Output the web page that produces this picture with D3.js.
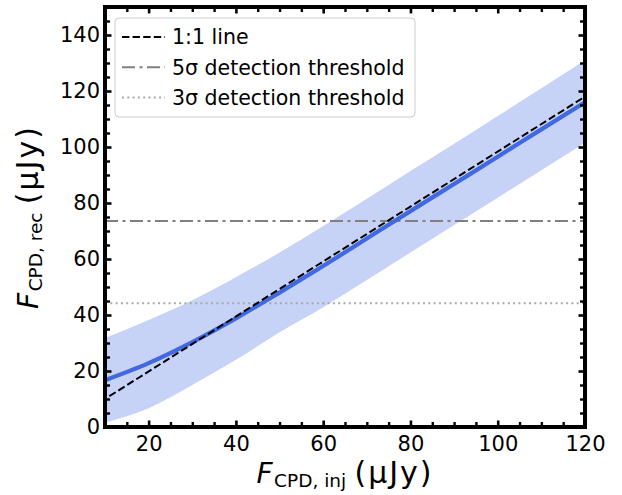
<!DOCTYPE html>
<html>
  <head>
    <meta charset="UTF-8" />
    <title>CPD flux recovery</title>
    <style>
      body { margin: 0; background: #fff; }
      svg { font-family: 'DejaVu Sans', sans-serif; }
      .tick line { stroke: #000; }
    </style>
  </head>
  <body>
    <svg width="622" height="495"></svg>
    <script src="https://cdnjs.cloudflare.com/ajax/libs/d3/7.8.5/d3.min.js"></script>
    <script>
      // injected flux (uJy) and recovered flux with its spread
      const injected = [10, 20, 30, 40, 50, 60, 70, 80, 90, 100, 110, 120];
      const recovered = [16.7, 22.8, 30.3, 38.8, 48.0, 57.5, 67.3, 77.1, 86.8, 96.5, 106.3, 116.0];
      const bandHigh = [31.8, 38.2, 45.3, 53.5, 62.3, 71.8, 81.5, 91.4, 101.2, 111.1, 121.0, 131.0];
      const bandLow = [1.6, 6.7, 15.0, 24.0, 33.8, 42.8, 52.5, 62.3, 72.1, 81.9, 91.7, 101.5];

      const oneToOneX = [11, 120];
      const oneToOneY = [11, 118];

      const threshold5 = 73.6;
      const threshold3 = 44.2;

      const legendLabels = ['1:1 line', '5σ detection threshold', '3σ detection threshold'];

      const xTicks = [20, 40, 60, 80, 100, 120];
      const yTicks = [0, 20, 40, 60, 80, 100, 120, 140];

      const svg = d3.select('svg');

      const plotLeft = 105;
      const plotRight = 585;
      const plotTop = 7;
      const plotBottom = 427;

      const xScale = d3.scaleLinear().domain([10, 120]).range([plotLeft, plotRight]);
      const yScale = d3.scaleLinear().domain([0, 150]).range([plotBottom, plotTop]);

      const xMinor = d3.range(10, 121, 5).filter((v) => !xTicks.includes(v));
      const yMinor = d3.range(0, 151, 5).filter((v) => !yTicks.includes(v));

      const rows = injected.map((x, i) => ({
        x,
        y: recovered[i],
        lo: bandLow[i],
        hi: bandHigh[i],
      }));

      // shaded spread
      svg
        .append('path')
        .datum(rows)
        .attr('fill', 'royalblue')
        .attr('fill-opacity', 0.3)
        .attr(
          'd',
          d3
            .area()
            .curve(d3.curveMonotoneX)
            .x((d) => xScale(d.x))
            .y0((d) => yScale(d.lo))
            .y1((d) => yScale(d.hi))
        );

      // thresholds
      svg
        .append('line')
        .attr('x1', xScale(10))
        .attr('x2', xScale(120))
        .attr('y1', yScale(threshold5))
        .attr('y2', yScale(threshold5))
        .attr('stroke', '#808080')
        .attr('stroke-width', 2)
        .attr('stroke-dasharray', '13,4.5,3,4.5');

      svg
        .append('line')
        .attr('x1', xScale(10))
        .attr('x2', xScale(120))
        .attr('y1', yScale(threshold3))
        .attr('y2', yScale(threshold3))
        .attr('stroke', '#a9a9a9')
        .attr('stroke-width', 2)
        .attr('stroke-dasharray', '2,3.3');

      // recovered flux
      svg
        .append('path')
        .datum(rows)
        .attr('fill', 'none')
        .attr('stroke', 'royalblue')
        .attr('stroke-width', 4.2)
        .attr(
          'd',
          d3
            .line()
            .curve(d3.curveMonotoneX)
            .x((d) => xScale(d.x))
            .y((d) => yScale(d.y))
        );

      // 1:1 line
      svg
        .append('path')
        .datum(oneToOneX.map((x, i) => [x, oneToOneY[i]]))
        .attr('fill', 'none')
        .attr('stroke', '#000')
        .attr('stroke-width', 2)
        .attr('stroke-dasharray', '7.4,3.2')
        .attr(
          'd',
          d3
            .line()
            .x((d) => xScale(d[0]))
            .y((d) => yScale(d[1]))
        );

      // axes with inward ticks on all four sides
      const styleAxis = (g, width) => {
        g.select('.domain').remove();
        g.selectAll('.tick line').attr('stroke-width', width);
        g.selectAll('.tick text')
          .attr('fill', '#000')
          .attr('font-size', 21)
          .attr('font-family', "'DejaVu Sans', sans-serif");
      };

      svg
        .append('g')
        .attr('transform', `translate(0,${plotBottom})`)
        .call(d3.axisBottom(xScale).tickValues(xTicks).tickSize(-6.5).tickPadding(9))
        .call(styleAxis, 2.6);
      svg
        .append('g')
        .attr('transform', `translate(0,${plotBottom})`)
        .call(d3.axisBottom(xScale).tickValues(xMinor).tickSize(-5).tickFormat(''))
        .call(styleAxis, 2.4);
      svg
        .append('g')
        .attr('transform', `translate(0,${plotTop})`)
        .call(d3.axisTop(xScale).tickValues(xTicks).tickSize(-6.5).tickFormat(''))
        .call(styleAxis, 2.6);
      svg
        .append('g')
        .attr('transform', `translate(0,${plotTop})`)
        .call(d3.axisTop(xScale).tickValues(xMinor).tickSize(-5).tickFormat(''))
        .call(styleAxis, 2.4);

      svg
        .append('g')
        .attr('transform', `translate(${plotLeft},0)`)
        .call(d3.axisLeft(yScale).tickValues(yTicks).tickSize(-6.5).tickPadding(5))
        .call(styleAxis, 2.6);
      svg
        .append('g')
        .attr('transform', `translate(${plotLeft},0)`)
        .call(d3.axisLeft(yScale).tickValues(yMinor).tickSize(-5).tickFormat(''))
        .call(styleAxis, 2.4);
      svg
        .append('g')
        .attr('transform', `translate(${plotRight},0)`)
        .call(d3.axisRight(yScale).tickValues(yTicks).tickSize(-6.5).tickFormat(''))
        .call(styleAxis, 2.6);
      svg
        .append('g')
        .attr('transform', `translate(${plotRight},0)`)
        .call(d3.axisRight(yScale).tickValues(yMinor).tickSize(-5).tickFormat(''))
        .call(styleAxis, 2.4);

      // frame
      svg
        .append('rect')
        .attr('x', plotLeft)
        .attr('y', plotTop)
        .attr('width', plotRight - plotLeft)
        .attr('height', plotBottom - plotTop)
        .attr('fill', 'none')
        .attr('stroke', '#000')
        .attr('stroke-width', 4);

      // axis labels
      const axisLabel = (sel, sub) => {
        sel.append('tspan').attr('font-style', 'italic').attr('font-size', 28).text('F');
        sel.append('tspan').attr('font-size', 18.5).attr('dx', 1.5).attr('dy', 4).text(sub);
        sel.append('tspan').attr('font-size', 26).attr('dy', -4).text(' ');
        sel.append('tspan').attr('font-size', 30).attr('letter-spacing', 2).text('(μJy)');
      };

      svg
        .append('text')
        .attr('x', (plotLeft + plotRight) / 2)
        .attr('y', 483)
        .attr('text-anchor', 'middle')
        .attr('fill', '#000')
        .call(axisLabel, 'CPD, inj');

      svg
        .append('text')
        .attr('transform', `translate(38,${(plotTop + plotBottom) / 2}) rotate(-90)`)
        .attr('text-anchor', 'middle')
        .attr('fill', '#000')
        .call(axisLabel, 'CPD, rec');

      // legend
      const legendStyles = [
        { color: '#000', dash: '7.4,3.2' },
        { color: '#808080', dash: '13,4.5,3,4.5' },
        { color: '#a9a9a9', dash: '2,3.3' },
      ];

      const legend = svg.append('g').attr('transform', 'translate(115,18)');

      legend
        .append('rect')
        .attr('width', 300)
        .attr('height', 99)
        .attr('rx', 4)
        .attr('fill', '#fff')
        .attr('fill-opacity', 0.8)
        .attr('stroke', '#cccccc')
        .attr('stroke-width', 1);

      const entry = legend
        .selectAll('g.entry')
        .data(legendLabels)
        .join('g')
        .attr('class', 'entry')
        .attr('transform', (d, i) => `translate(0,${19 + i * 30.3})`);

      entry
        .append('line')
        .attr('x1', 7)
        .attr('x2', 50)
        .attr('stroke', (d, i) => legendStyles[i].color)
        .attr('stroke-width', 2)
        .attr('stroke-dasharray', (d, i) => legendStyles[i].dash);

      entry
        .append('text')
        .attr('x', 57)
        .attr('dy', '0.36em')
        .attr('font-size', 20.5)
        .attr('fill', '#000')
        .text((d) => d);
    </script>
  </body>
</html>
